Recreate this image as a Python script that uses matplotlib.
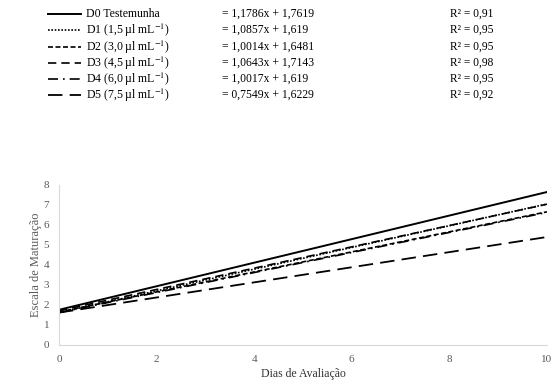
import matplotlib.pyplot as plt
from matplotlib.lines import Line2D

plt.rcParams['font.family'] = ['Liberation Serif', 'DejaVu Serif']
plt.rcParams['mathtext.fontset'] = 'stix'

# regression lines, values read at day 0 and day 10
days = [0, 10]
labels = ["D0 Testemunha",
          r"D1 (1,5 µl mL$^{\mathrm{-1}}$)",
          r"D2 (3,0 µl mL$^{\mathrm{-1}}$)",
          r"D3 (4,5 µl mL$^{\mathrm{-1}}$)",
          r"D4 (6,0 µl mL$^{\mathrm{-1}}$)",
          r"D5 (7,5 µl mL$^{\mathrm{-1}}$)"]
equations = ["= 1,1786x + 1,7619", "= 1,0857x + 1,619", "= 1,0014x + 1,6481",
             "= 1,0643x + 1,7143", "= 1,0017x + 1,619", "= 0,7549x + 1,6229"]
r2 = ["R² = 0,91", "R² = 0,95", "R² = 0,95", "R² = 0,98", "R² = 0,95", "R² = 0,92"]
d0 = [1.76, 7.65]
d1 = [1.62, 7.05]
d2 = [1.65, 6.66]
d3 = [1.71, 7.04]
d4 = [1.62, 6.63]
d5 = [1.62, 5.40]
series = [d0, d1, d2, d3, d4, d5]

styles = ['-', (0, (1, 1)), (0, (3, 1.5)), (0, (5, 3)), (0, (6, 3, 1, 3)), (0, (8, 4))]
widths = [1.4, 1.2, 1.2, 1.2, 1.2, 1.3]

W, H = 560, 385
fig = plt.figure(figsize=(5.6, 3.85), dpi=100)
ax = fig.add_axes([59 / W, 1 - 345 / H, (547 - 59) / W, (345 - 185) / H])

for ys, ls, lw in zip(series, styles, widths):
    ax.plot(days, ys, color='black', linestyle=ls, linewidth=lw)

ax.set_xlim(0, 10)
ax.set_ylim(0, 8)
ax.set_xticks(range(0, 11, 2))
ax.set_yticks(range(0, 9))
ax.tick_params(length=0, labelsize=8, labelcolor='#595959', pad=7)
for s in ['top', 'right']:
    ax.spines[s].set_visible(False)
for s in ['left', 'bottom']:
    ax.spines[s].set_color('#d9d9d9')
ax.set_xlabel("Dias de Avaliação", fontsize=8.5, color='#333333', labelpad=3)
ax.set_ylabel("Escala de Maturação", fontsize=9, color='#595959')
ax.yaxis.set_label_coords(-0.035, 0.5)

# legend block with equations
rows_y = [14, 30, 47, 63, 79, 95]
for i, y in enumerate(rows_y):
    fy = 1 - y / H
    fig.add_artist(Line2D([48 / W, 81 / W], [fy, fy], color='black',
                          linestyle=styles[i], linewidth=widths[i]))
    fig.text(86 / W, fy, labels[i], fontsize=8.5, va='center')
    fig.text(222 / W, fy, equations[i], fontsize=8.4, va='center')
    fig.text(450 / W, fy, r2[i], fontsize=8.3, va='center')

fig.savefig('out.png', dpi=100)
